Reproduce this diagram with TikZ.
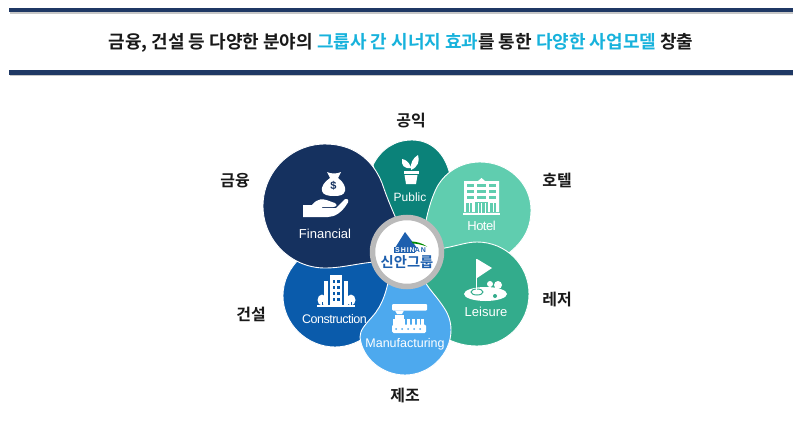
\documentclass[tikz,border=0pt]{standalone}
\usepackage{fontspec}
\setmainfont{Liberation Sans}
\newfontfamily\krfont[BoldFont=Noto Sans CJK KR Bold]{Noto Sans CJK KR}
\definecolor{navybar}{HTML}{1F3864}
\definecolor{skytext}{HTML}{17B2DC}
\definecolor{finc}{HTML}{15315F}
\definecolor{pubc}{HTML}{0B8279}
\definecolor{hotc}{HTML}{60CDAF}
\definecolor{leic}{HTML}{33AC8C}
\definecolor{manc}{HTML}{4DA9EE}
\definecolor{conc}{HTML}{0A5BAB}
\definecolor{logoc}{HTML}{1D5FAE}
\tikzstyle{bar} = [fill=navybar]
\tikzstyle{barshade} = [fill=black!22]
\tikzstyle{petal} = [draw=white, line width=0.9pt]
\tikzstyle{ico} = [fill=white]
\tikzstyle{petallabel} = [text=white, inner sep=0pt, font=\fontsize{13}{13}\selectfont]
\tikzstyle{kor} = [inner sep=0pt, font=\krfont\bfseries\fontsize{16}{16}\selectfont, text=black!90]
\begin{document}
\begin{tikzpicture}[x=1pt, y=-1pt]
  \useasboundingbox (0,0) rectangle (800,423);
  \fill[white] (0,0) rectangle (800,423);
  \fill[barshade] (10,12) rectangle (793,13.5);
  \fill[barshade] (10,74.5) rectangle (793,76);
  \fill[bar] (9,8) rectangle (793,12);
  \fill[bar] (9,70) rectangle (793,74.5);
  \node[inner sep=0pt, font=\krfont\bfseries\fontsize{18}{18}\selectfont, text=black!90] (title) at (401,42.5)
    {금융, 건설 등 다양한 분야의 \textcolor{skytext}{그룹사 간 시너지 효과}를 통한 \textcolor{skytext}{다양한 사업모델} 창출};

  \draw[petal, fill=pubc] (373,165) .. controls (381,149) and (395,140) .. (412,140)
    .. controls (430,140) and (445,152) .. (450,175) -- (425,240) -- (395,240) -- cycle;
  \draw[petal, fill=conc] (392,258) -- (388,296) .. controls (386,325) and (362,347) .. (335,347)
    .. controls (307,347) and (283,324) .. (283,296)
    .. controls (283,280) and (290,268) .. (300,258) -- cycle;
  \draw[petal, fill=finc] (325,144) .. controls (352,144) and (372,158) .. (382,183)
    .. controls (387,198) and (393,212) .. (402,232) -- (388,261)
    .. controls (360,262) and (345,268) .. (325,268)
    .. controls (291,268) and (263,240) .. (263,206)
    .. controls (263,172) and (291,144) .. (325,144) -- cycle;
  \draw[petal, fill=hotc] (480,162) .. controls (508,162) and (531,183) .. (531,210)
    .. controls (531,232) and (520,245) .. (505,256) -- (420,252)
    .. controls (425,225) and (428,205) .. (437,187)
    .. controls (446,171) and (462,162) .. (480,162) -- cycle;
  \draw[petal, fill=leic] (438,249) .. controls (455,247) and (465,242) .. (477,242)
    .. controls (506,242) and (529,265) .. (529,294)
    .. controls (529,323) and (506,346) .. (477,346)
    .. controls (465,346) and (455,343) .. (445,338) -- (415,265) -- cycle;
  \draw[petal, fill=manc] (390,272) .. controls (387,290) and (383,305) .. (372,317)
    .. controls (365,325) and (360,330) .. (360,337)
    .. controls (362,358) and (382,375) .. (405,375)
    .. controls (430,375) and (451,354) .. (451,330)
    .. controls (451,318) and (446,310) .. (440,302)
    .. controls (435,295) and (430,290) .. (425,282) -- cycle;

  \node[circle, fill=white, draw=black!27, line width=5.5pt, minimum size=69pt, inner sep=0pt] (hub) at (407,252) {};
  \fill[logoc] (405,232) -- (417,248) -- (395,248) -- cycle;
  \fill[green!55!black] (411,241.5) .. controls (416,241.5) and (422,243) .. (427,246.5) .. controls (421,244.5) and (416,243.5) .. (413,243.5) -- cycle;
  \fill[logoc] (393.5,247) rectangle (415,253);
  \node[inner sep=0pt, text=white, font=\bfseries\fontsize{7}{7}\selectfont\addfontfeature{LetterSpace=14}] (brand) at (410.5,250)
    {SHIN\textcolor{logoc}{AN}};
  \node[inner sep=0pt, text=logoc, font=\krfont\bfseries\fontsize{14.3}{14.3}\selectfont] (brandkr) at (407,262.5) {신안그룹};

  \node[petallabel] (financial) at (325,234) {Financial};
  \node[petallabel, font=\fontsize{12}{12}\selectfont] (public) at (410,197) {Public};
  \node[petallabel, font=\fontsize{13}{13}\selectfont\addfontfeature{LetterSpace=-4}] (hotel) at (481.5,226) {Hotel};
  \node[petallabel, font=\fontsize{13}{13}\selectfont] (leisure) at (486,312) {Leisure};
  \node[petallabel, font=\fontsize{12.5}{12.5}\selectfont\addfontfeature{LetterSpace=-4}] (construction) at (334.5,319) {Construction};
  \node[petallabel, font=\fontsize{12.5}{12.5}\selectfont] (manufacturing) at (405,344) {Manufacturing};

  \node[kor] (gongik) at (411,121) {공익};
  \node[kor] (geumyung) at (235,181) {금융};
  \node[kor] (hotelkr) at (557,180) {호텔};
  \node[kor] (leisurekr) at (557,300) {레저};
  \node[kor] (geonseol) at (251,314) {건설};
  \node[kor] (jejo) at (405,395) {제조};

  \fill[ico] (327,172) .. controls (331,174) and (337,174) .. (341,172) -- (338,178)
    .. controls (344,182) and (346,188) .. (345,191)
    .. controls (344,195) and (340,196) .. (334,196) .. controls (328,196) and (323,195) .. (322,191)
    .. controls (321,187) and (324,182) .. (330,178) -- cycle;
  \node[inner sep=0pt, text=finc, font=\bfseries\fontsize{11}{11}\selectfont] (dollar) at (333.5,186) {\$};
  \fill[ico] (303,205) -- (312,205) .. controls (318,198) and (322,198) .. (332,202)
    -- (335,203) .. controls (338,205) and (336,207) .. (333,207) -- (322,207) -- (322,208) -- (336,208)
    -- (345,199) .. controls (349,198) and (349,202) .. (347,204)
    .. controls (342,212) and (335,217) .. (328,217) -- (303,217) -- cycle;

  \fill[ico] (403.5,171) rectangle (418.5,174);
  \fill[ico] (404.5,175) -- (417.5,175) -- (416,184) -- (406,184) -- cycle;
  \fill[ico] (411,170) -- (411,167) .. controls (408,161) and (406,160) .. (402,159) .. controls (401,165) and (404,169) .. (411,168) -- cycle;
  \fill[ico] (411,170) .. controls (410,163) and (413,158) .. (418,155) .. controls (420,161) and (418,167) .. (411,170) -- cycle;

  \fill[ico] (464,181) -- (478,181) -- (481.5,178) -- (485,181) -- (499,181) -- (499,212) -- (464,212) -- cycle;
  \fill[ico] (463,213) rectangle (500,215);
  \foreach \wy in {184,190,196}{
    \foreach \wx/\ww in {467/7,477/9,489/7}{
      \fill[hotc] (\wx,\wy) rectangle +(\ww,3);
    }
  }
  \foreach \wx in {466,469.5,490,493.5}{
    \fill[hotc] (\wx,203) rectangle +(2.5,9);
  }
  \fill[hotc] (475,202) rectangle (488,212.5);
  \foreach \wx in {477.5,481,484.5}{
    \fill[white] (\wx,203) rectangle +(1.2,9.5);
  }

  \fill[ico] (477,259) -- (492,268) -- (477,278) -- cycle;
  \fill[ico] (476.2,259) rectangle (477.4,292);
  \fill[ico] (490,284) circle (3);
  \fill[ico] (498,285) circle (4);
  \fill[ico] (485.5,294) ellipse (21.5 and 7);
  \draw[leic, line width=1pt] (477,292) ellipse (6 and 3);
  \fill[ico] (476.2,288) rectangle (477.4,292);
  \fill[leic] (495,296) circle (2);

  \fill[ico] (330,275) rectangle (342,307);
  \foreach \wy in {280,286,292,298}{
    \fill[conc] (332.5,\wy) rectangle +(2.5,3);
    \fill[conc] (337,\wy) rectangle +(2.5,3);
  }
  \fill[ico] (324,281) rectangle (327.5,307);
  \fill[ico] (344,281) rectangle (347.5,307);
  \fill[ico] (317,305) rectangle (355,307);
  \fill[ico] (322,300) ellipse (4.5 and 5.5);
  \fill[ico] (351,300) ellipse (4.5 and 5.5);
  \fill[conc] (321.5,302) rectangle +(1,3);
  \fill[conc] (350.5,302) rectangle +(1,3);

  \fill[ico, rounded corners=1pt] (392,304) rectangle (427,310.5);
  \fill[ico] (395,310.5) -- (404,310.5) -- (402,314) -- (397,314) -- cycle;
  \fill[ico] (395,315) rectangle (404,319);
  \fill[ico] (393,319) rectangle (405,325);
  \foreach \bx in {406.5,411.5,416.5,421}{
    \fill[ico] (\bx,319) rectangle +(3,6);
  }
  \fill[ico, rounded corners=1.5pt] (392,324.5) rectangle (426,333);
  \foreach \bx in {396,402,408,414,420}{
    \fill[manc] (\bx,329) circle (1);
  }
\end{tikzpicture}
\end{document}
